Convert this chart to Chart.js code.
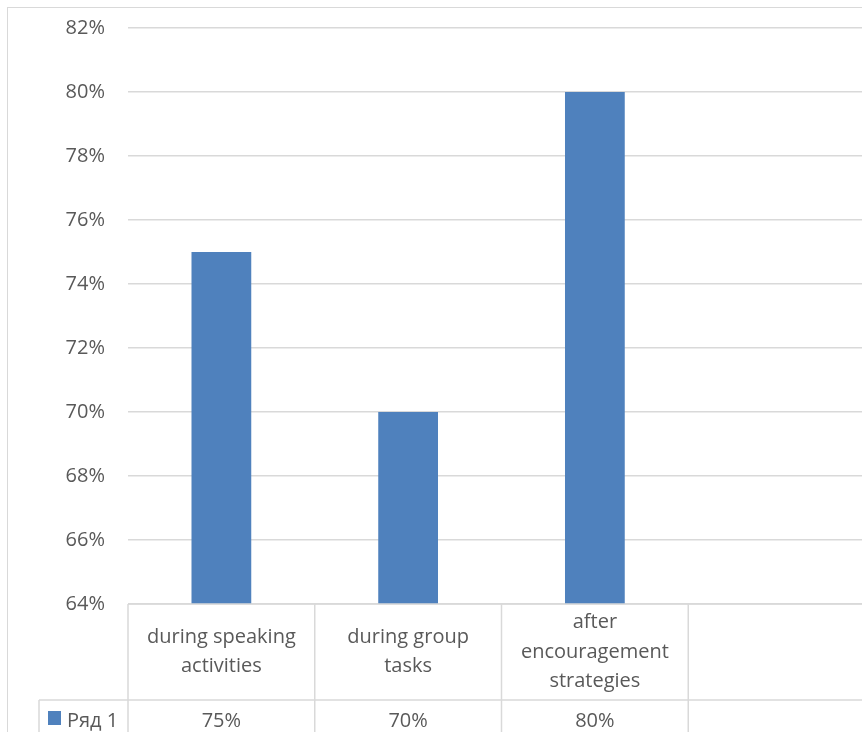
<!DOCTYPE html>
<html>
<head>
<meta charset="utf-8">
<script src="https://cdn.jsdelivr.net/npm/chart.js@4"></script>
<style>
    html, body { margin: 0; padding: 0; background: #fff; overflow: hidden; width: 862px; height: 732px; }
    #wrap { position: relative; width: 862px; height: 732px; overflow: hidden; }
    #frame { position: absolute; left: 7px; top: 7px; width: 900px; height: 800px; border: 1.5px solid #d9d9d9; box-sizing: border-box; }
    #chart { position: absolute; left: 0; top: 0; }
</style>
</head>
<body>
<div id="wrap">
    <div id="frame"></div>
    <canvas id="chart" width="880" height="760"></canvas>
</div>
<script>
// chart data
const categories = [
    ['during speaking', 'activities'],
    ['during group', 'tasks'],
    ['after', 'encouragement', 'strategies'],
    ['']
];
const seriesName = 'Ряд 1';
const seriesValues = [75, 70, 80, null];
const yMin = 64, yMax = 82, yStep = 2;

const textColor = '#595959';
const lineColor = '#d9d9d9';
const barColor = '#4f81bd';
const fontFamily = '"Open Sans", "Liberation Sans", sans-serif';
const fontSize = 20;

// draws the Excel-style data table under the plot
const dataTablePlugin = {
    id: 'dataTable',
    afterDraw(chart) {
        const ctx = chart.ctx;
        const area = chart.chartArea;
        const xScale = chart.scales.x;
        const n = categories.length;
        const colW = xScale.width / n;
        const rowY = area.bottom + 96;
        const bottom = chart.height;

        ctx.save();
        ctx.strokeStyle = lineColor;
        ctx.lineWidth = 1.5;
        ctx.beginPath();
        ctx.moveTo(area.left, area.bottom);
        ctx.lineTo(chart.width, area.bottom);
        ctx.moveTo(39, rowY);
        ctx.lineTo(chart.width, rowY);
        ctx.moveTo(39, rowY);
        ctx.lineTo(39, bottom);
        for (let i = 0; i <= n; i++) {
            const x = xScale.left + i * colW;
            ctx.moveTo(x, area.bottom);
            ctx.lineTo(x, bottom);
        }
        ctx.stroke();

        ctx.fillStyle = textColor;
        ctx.font = fontSize + 'px ' + fontFamily;
        ctx.textAlign = 'center';
        ctx.textBaseline = 'middle';
        const midY = (area.bottom + rowY) / 2;
        const lh = 29.5;
        categories.forEach((lines, i) => {
            const cx = xScale.getPixelForValue(i);
            const y0 = midY - (lines.length - 1) * lh / 2;
            lines.forEach((t, j) => ctx.fillText(t, cx, y0 + j * lh));
            const v = seriesValues[i];
            if (v !== null) {
                ctx.fillText(v + '%', cx, rowY + 21);
            }
        });

        // legend key
        ctx.fillStyle = barColor;
        ctx.fillRect(48, rowY + 11, 13, 14);
        ctx.fillStyle = textColor;
        ctx.textAlign = 'left';
        ctx.fillText(seriesName, 67, rowY + 21);
        ctx.restore();
    }
};

new Chart(document.getElementById('chart'), {
    type: 'bar',
    data: {
        labels: categories.map(c => c.join(' ')),
        datasets: [{
            label: seriesName,
            data: seriesValues,
            backgroundColor: barColor,
            categoryPercentage: 1,
            barPercentage: 0.32
        }]
    },
    options: {
        responsive: false,
        animation: false,
        devicePixelRatio: 1,
        layout: {
            padding: { top: 28, right: 5, bottom: 156, left: 0 }
        },
        plugins: {
            legend: { display: false },
            tooltip: { enabled: false }
        },
        scales: {
            x: {
                display: false
            },
            y: {
                min: yMin,
                max: yMax,
                border: { display: false },
                grid: { color: lineColor, lineWidth: 1.5, drawTicks: false },
                ticks: {
                    stepSize: yStep,
                    padding: 23,
                    color: textColor,
                    font: { family: fontFamily, size: fontSize },
                    callback: v => v + '%'
                },
                afterFit(scale) {
                    scale.width = 128;
                    scale.paddingTop = 0;
                    scale.paddingBottom = 0;
                }
            }
        }
    },
    plugins: [dataTablePlugin]
});
</script>
</body>
</html>
